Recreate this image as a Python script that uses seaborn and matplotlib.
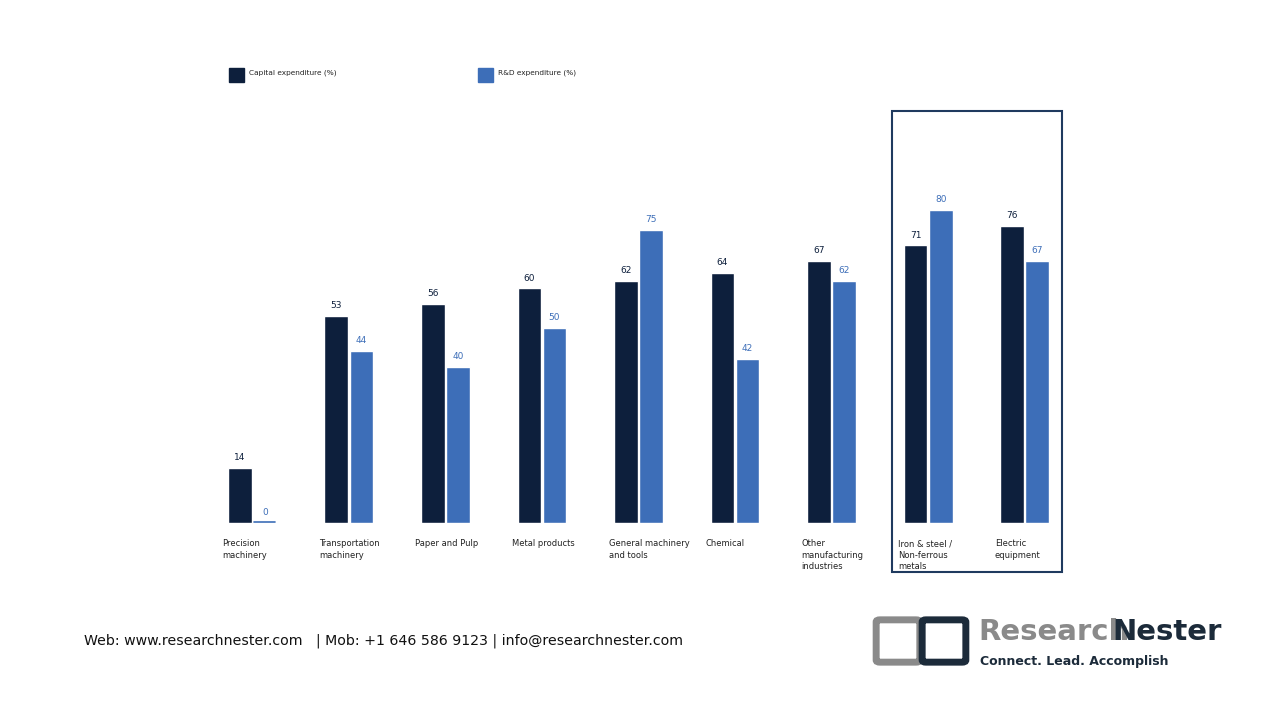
import pandas as pd
import seaborn as sns
import matplotlib.pyplot as plt
from matplotlib.patches import Rectangle, FancyBboxPatch

categories = ['Precision\nmachinery', 'Transportation\nmachinery', 'Paper and Pulp', 'Metal products',
              'General machinery\nand tools', 'Chemical', 'Other\nmanufacturing\nindustries',
              'Iron & steel /\nNon-ferrous\nmetals', 'Electric\nequipment']
capital = [14, 53, 56, 60, 62, 64, 67, 71, 76]
rnd = [0, 44, 40, 50, 75, 42, 62, 80, 67]
series = ['Capital expenditure (%)', 'R&D expenditure (%)']
colors = ['#0d1f3c', '#3d6eb8']

df = pd.DataFrame({
    'cat': list(range(len(categories))) * 2,
    'value': capital + rnd,
    'series': [series[0]] * len(capital) + [series[1]] * len(rnd),
})

sns.set_style('white')
plt.rcParams['font.family'] = ['DejaVu Sans']
W, H = 1280, 720
fig = plt.figure(figsize=(12.8, 7.2), dpi=100)
ax = fig.add_axes([204 / W, 1 - 523 / H, 869 / W, 391 / H])
sns.barplot(data=df, x='cat', y='value', hue='series', palette=colors, width=0.52, gap=0.06,
            ax=ax, legend=False, saturation=1)
ax.set_xlim(-0.5, len(categories) - 0.5)
ax.set_ylim(0, 100)
ax.axis('off')

for i, (c, r) in enumerate(zip(capital, rnd)):
    ax.text(i - 0.13, c + 1.5, str(c), ha='center', va='bottom', fontsize=6.5, color=colors[0])
    ax.text(i + 0.13, r + 1.5, str(r), ha='center', va='bottom', fontsize=6.5, color=colors[1])
    ax.text(i - 0.31, -4.2, categories[i], ha='left', va='top', fontsize=6,
            color='#222222', linespacing=1.3)
ax.plot([0.02, 0.24], [0.3, 0.3], color=colors[1], lw=1.2)

# highlight box
fig.add_artist(Rectangle((892 / W, 1 - 572 / H), 170 / W, 461 / H, fill=False,
                         edgecolor='#1f3a5f', lw=1.5, transform=fig.transFigure))

# legend
for x0, lab, col in [(229, series[0], colors[0]), (478, series[1], colors[1])]:
    fig.add_artist(Rectangle((x0 / W, 1 - 82 / H), 15 / W, 14 / H, color=col,
                             transform=fig.transFigure))
    fig.text((x0 + 20) / W, 1 - 73 / H, lab, fontsize=5.3, va='center', color='#222222')

# footer
fig.text(84 / W, 1 - 641 / H, 'Web: www.researchnester.com   | Mob: +1 646 586 9123 | info@researchnester.com',
         fontsize=10.2, va='center', color='#111111')
fig.add_artist(FancyBboxPatch((880 / W, 1 - 660 / H), 36 / W, 38 / H,
                              boxstyle='round,pad=0.003', fill=False, edgecolor='#8a8a8a', lw=5,
                              transform=fig.transFigure))
fig.add_artist(FancyBboxPatch((926 / W, 1 - 660 / H), 36 / W, 38 / H,
                              boxstyle='round,pad=0.003', fill=False, edgecolor='#1c2b3a', lw=5,
                              transform=fig.transFigure))
fig.text(978 / W, 1 - 632 / H, 'Research', fontsize=21, fontweight='bold', color='#8a8a8a',
         va='center')
fig.text(1112 / W, 1 - 632 / H, 'Nester', fontsize=21, fontweight='bold', color='#1c2b3a',
         va='center')
fig.text(980 / W, 1 - 661 / H, 'Connect. Lead. Accomplish', fontsize=9,
         fontweight='bold', color='#1c2b3a', va='center')

fig.savefig('out.png', dpi=100, facecolor='white')
